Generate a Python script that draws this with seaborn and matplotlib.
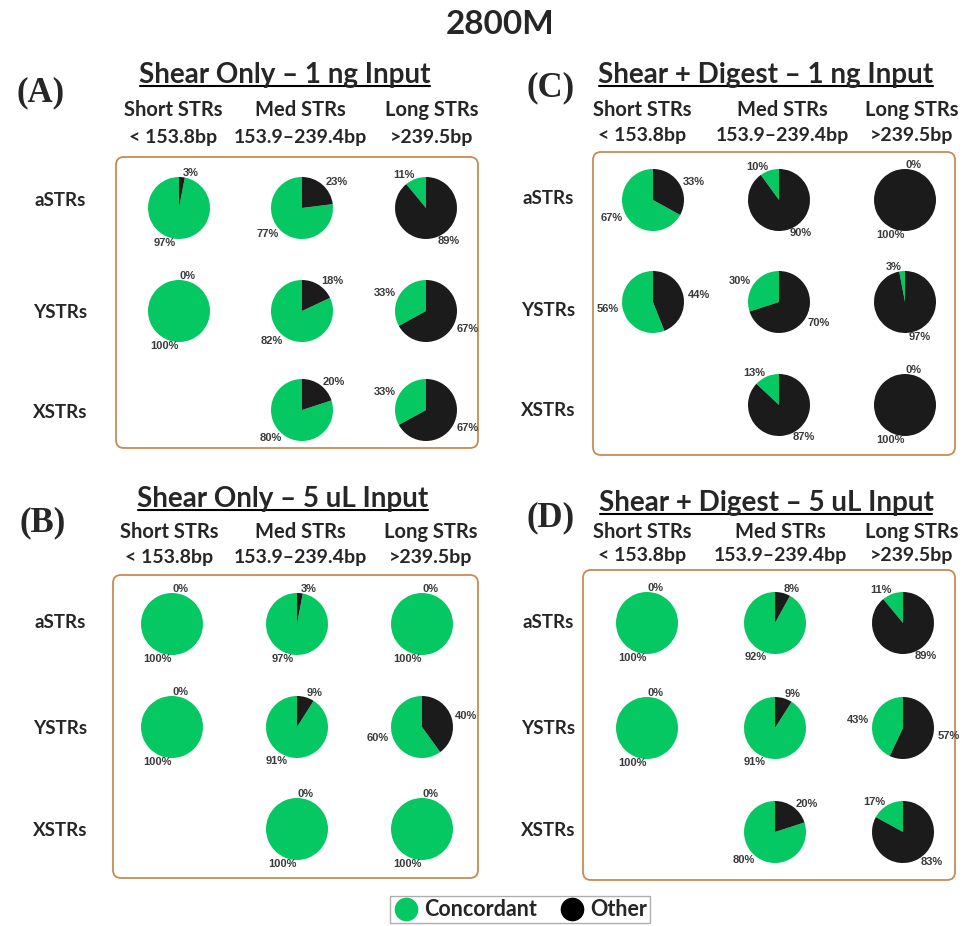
import matplotlib
matplotlib.use("Agg")
import matplotlib.pyplot as plt
import seaborn as sns
import numpy as np
from matplotlib.patches import FancyBboxPatch
from matplotlib.lines import Line2D

sns.set_theme(style="white")
plt.rcParams['font.family'] = ['Lato', 'DejaVu Sans']

# ---------------- data ----------------
main_title = "2800M"
panel_letters = ["(A)", "(B)", "(C)", "(D)"]
panel_titles = ["Shear Only \u2013 1 ng Input", "Shear Only \u2013 5 uL Input",
                "Shear + Digest \u2013 1 ng Input", "Shear + Digest \u2013 5 uL Input"]
col_names = ["Short STRs", "Med STRs", "Long STRs"]
col_ranges = ["< 153.8bp", "153.9\u2013239.4bp", ">239.5bp"]
row_names = ["aSTRs", "YSTRs", "XSTRs"]
series = ["Concordant", "Other"]

# Concordant % per panel (rows: aSTRs, YSTRs, XSTRs; cols: Short, Med, Long)
concordant_A = [[97, 77, 11], [100, 82, 33], [None, 80, 33]]
concordant_B = [[100, 97, 100], [100, 91, 60], [None, 100, 100]]
concordant_C = [[67, 10, 0], [56, 30, 3], [None, 13, 0]]
concordant_D = [[100, 92, 11], [100, 91, 43], [None, 80, 17]]
# Other % per panel
other_A = [[3, 23, 89], [0, 18, 67], [None, 20, 67]]
other_B = [[0, 3, 0], [0, 9, 40], [None, 0, 0]]
other_C = [[33, 90, 100], [44, 70, 97], [None, 87, 100]]
other_D = [[0, 8, 89], [0, 9, 57], [None, 20, 83]]

GREEN = "#05C862"
BLACK = "#1B1B1B"
BOX = "#C98A55"

W, H = 963, 926
fig = plt.figure(figsize=(W / 100, H / 100), dpi=100)
ax = fig.add_axes([0, 0, 1, 1])

def Y(py):
    return H - py

# layout (pixel coordinates, top-left origin)
layouts = [
    dict(conc=concordant_A, oth=other_A, cols=[179, 302, 426], rows=[208, 311, 410],
         box=(116, 157, 478, 448), title=(285, 75), letter=(41, 93),
         hx=[173, 300, 432], hy=(110, 137), rlx=60, rly=[200, 312, 412]),
    dict(conc=concordant_B, oth=other_B, cols=[172, 297, 422], rows=[624, 727, 829],
         box=(113, 575, 478, 878), title=(283, 499), letter=(43, 523),
         hx=[169, 300, 431], hy=(532, 557), rlx=60, rly=[622, 728, 830]),
    dict(conc=concordant_C, oth=other_C, cols=[653, 779, 905], rows=[200, 302, 405],
         box=(593, 152, 955, 455), title=(766, 75), letter=(551, 88),
         hx=[642, 782, 912], hy=(110, 135), rlx=548, rly=[198, 310, 410]),
    dict(conc=concordant_D, oth=other_D, cols=[647, 775, 903], rows=[623, 728, 832],
         box=(583, 570, 955, 880), title=(766, 503), letter=(551, 518),
         hx=[642, 780, 912], hy=(532, 555), rlx=548, rly=[622, 728, 830]),
]
R = 31

title_texts = []
for i, L in enumerate(layouts):
    x0, y0, x1, y1 = L["box"]
    ax.add_patch(FancyBboxPatch((x0, Y(y1)), x1 - x0, y1 - y0,
                                boxstyle="round,pad=0,rounding_size=8",
                                fill=False, edgecolor=BOX, linewidth=1.3))
    ax.text(L["letter"][0], Y(L["letter"][1]), panel_letters[i], ha="center", va="center",
            fontsize=25, fontweight="bold", family=["Liberation Serif", "DejaVu Serif"])
    t = ax.text(L["title"][0], Y(L["title"][1]), panel_titles[i], ha="center", va="center",
                fontsize=20, fontweight="bold")
    title_texts.append(t)
    for c in range(3):
        ax.text(L["hx"][c], Y(L["hy"][0]), col_names[c], ha="center", va="center",
                fontsize=14.5, fontweight="bold")
        ax.text(L["hx"][c], Y(L["hy"][1]), col_ranges[c], ha="center", va="center",
                fontsize=14, fontweight="bold")
    for r in range(3):
        ax.text(L["rlx"], Y(L["rly"][r]), row_names[r], ha="center", va="center",
                fontsize=13.5, fontweight="bold")
    for r in range(3):
        for c in range(3):
            cv = L["conc"][r][c]
            ov = L["oth"][r][c]
            if cv is None:
                continue
            cx, cy = L["cols"][c], Y(L["rows"][r])
            ax.pie([cv, ov], colors=[GREEN, BLACK], startangle=90, counterclock=True,
                   center=(cx, cy), radius=R, frame=True,
                   wedgeprops=dict(linewidth=0))
            # labels
            start = 90.0
            for val in (cv, ov):
                mid = np.deg2rad(start + 3.6 * val / 2)
                start += 3.6 * val
                co, si = np.cos(mid), np.sin(mid)
                if abs(co) <= 0.05:
                    ha = "left" if si > 0 else "right"
                else:
                    ha = "left" if co > 0 else "right"
                ax.text(cx + 1.13 * R * co, cy + 1.13 * R * si, f"{val}%",
                        ha=ha, va="center", fontsize=8, fontweight="bold",
                        color="#3A3A3A", family=["Liberation Sans", "DejaVu Sans"])

ax.text(500, Y(25), main_title, ha="center", va="center", fontsize=24, fontweight="bold")

ax.set_xlim(0, W)
ax.set_ylim(0, H)
ax.axis("off")

# legend
handles = [Line2D([0], [0], marker="o", linestyle="", markersize=16, markerfacecolor=GREEN,
                  markeredgecolor=GREEN, label=series[0]),
           Line2D([0], [0], marker="o", linestyle="", markersize=16, markerfacecolor="black",
                  markeredgecolor="black", label=series[1])]
leg = fig.legend(handles=handles, loc="upper center", bbox_to_anchor=(520 / W, 1 - 896 / H),
                 ncol=2, frameon=True, fancybox=False, edgecolor="#9A9A9A",
                 prop=dict(weight="bold", size=15.5), handletextpad=0.25, columnspacing=1.0,
                 borderpad=0.15, borderaxespad=0, handlelength=1.2)
leg.get_frame().set_linewidth(1.0)

# underline panel titles
fig.canvas.draw()
rend = fig.canvas.get_renderer()
inv = ax.transData.inverted()
for t in title_texts:
    bb = t.get_window_extent(renderer=rend)
    (ax0, ay0), (ax1, ay1) = inv.transform([(bb.x0, bb.y0), (bb.x1, bb.y1)])
    ax.plot([ax0 + 1, ax1 - 1], [ay0 + 2, ay0 + 2], color="black", linewidth=1.5)

fig.savefig("out.png", dpi=100)
